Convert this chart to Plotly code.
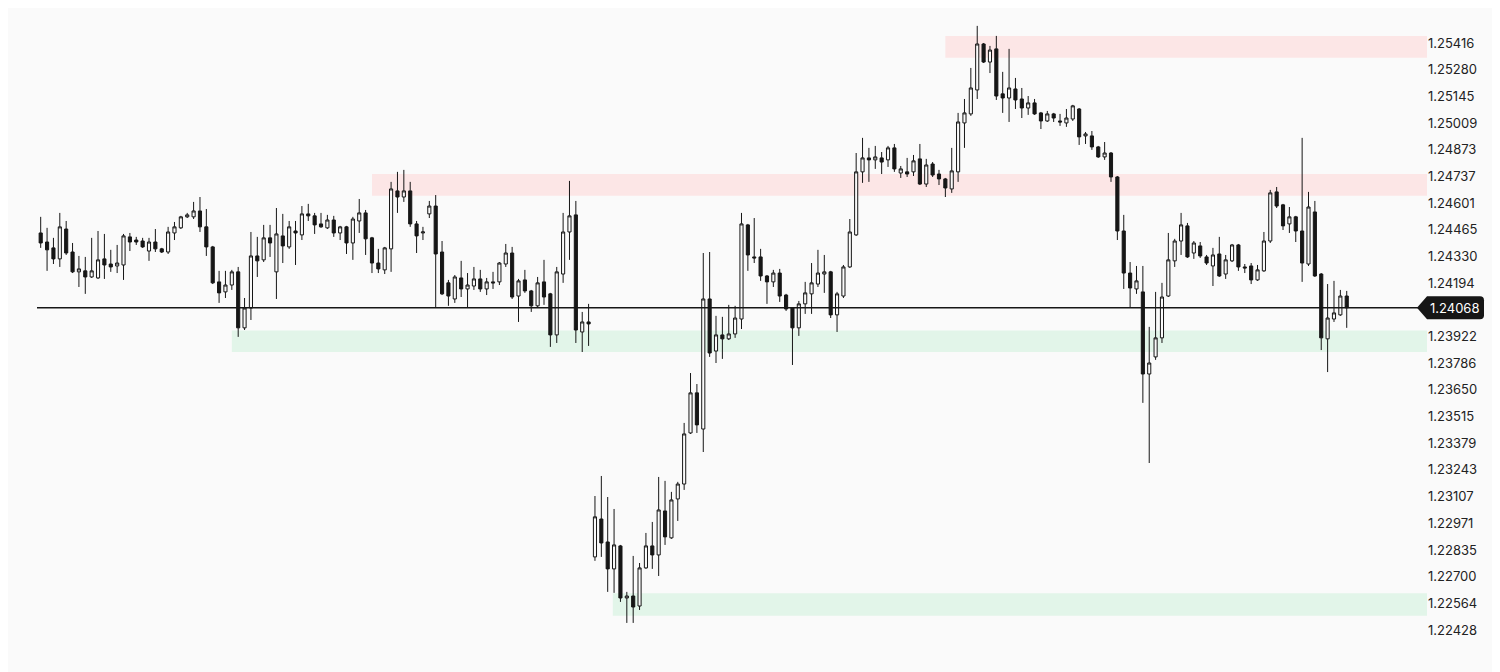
import plotly.graph_objects as go

open_prices = [
    1.24449, 1.24403, 1.24373, 1.24317, 1.24469, 1.24352, 1.24251, 1.24256, 1.24225, 1.24220,
    1.24317, 1.24291, 1.24281, 1.24286, 1.24429, 1.24413, 1.24408, 1.24357, 1.24403, 1.24368,
    1.24352, 1.24449, 1.24475, 1.24531, 1.24531, 1.24561, 1.24480, 1.24378, 1.24200, 1.24149,
    1.24184, 1.24251, 1.23966, 1.24067, 1.24332, 1.24312, 1.24424, 1.24251, 1.24434, 1.24378,
    1.24459, 1.24439, 1.24546, 1.24536, 1.24495, 1.24475, 1.24515, 1.24449, 1.24480, 1.24398,
    1.24510, 1.24551, 1.24424, 1.24296, 1.24261, 1.24368, 1.24663, 1.24632, 1.24663, 1.24495,
    1.24449, 1.24546, 1.24586, 1.24352, 1.24195, 1.24113, 1.24220, 1.24164, 1.24179, 1.24215,
    1.24164, 1.24200, 1.24200, 1.24291, 1.24347, 1.24128, 1.24210, 1.24154, 1.24078, 1.24200,
    1.24139, 1.23930, 1.24240, 1.24454, 1.24541, 1.23945, 1.23996, 1.22800, 1.22993, 1.22876,
    1.22739, 1.22856, 1.22591, 1.22601, 1.22550, 1.22744, 1.22856, 1.22810, 1.23034, 1.22897,
    1.23095, 1.23171, 1.23431, 1.23635, 1.23451, 1.24113, 1.23848, 1.23930, 1.23910, 1.23935,
    1.24011, 1.24490, 1.24327, 1.24327, 1.24230, 1.24200, 1.24245, 1.24133, 1.24067, 1.23966,
    1.24088, 1.24139, 1.24189, 1.24240, 1.24251, 1.24032, 1.24128, 1.24276, 1.24439, 1.24760,
    1.24831, 1.24821, 1.24831, 1.24821, 1.24882, 1.24754, 1.24760, 1.24760, 1.24826, 1.24698,
    1.24800, 1.24749, 1.24724, 1.24673, 1.24760, 1.25009, 1.25055, 1.25177, 1.25411, 1.25319,
    1.25386, 1.25157, 1.25136, 1.25182, 1.25131, 1.25085, 1.25111, 1.25060, 1.25019, 1.25055,
    1.25019, 1.25009, 1.25029, 1.25080, 1.24943, 1.24943, 1.24887, 1.24836, 1.24856, 1.24734,
    1.24459, 1.24245, 1.24164, 1.24149, 1.23731, 1.23818, 1.23915, 1.24128, 1.24307, 1.24408,
    1.24485, 1.24347, 1.24383, 1.24327, 1.24281, 1.24342, 1.24240, 1.24307, 1.24388, 1.24276,
    1.24281, 1.24210, 1.24256, 1.24408, 1.24658, 1.24592, 1.24495, 1.24531, 1.24459, 1.24291,
    1.24556, 1.24240, 1.23910, 1.24011, 1.24032, 1.24128,
]

high_prices = [
    1.24531, 1.24475, 1.24424, 1.24551, 1.24510, 1.24398, 1.24332, 1.24327, 1.24424, 1.24459,
    1.24444, 1.24363, 1.24388, 1.24444, 1.24449, 1.24429, 1.24424, 1.24424, 1.24469, 1.24373,
    1.24480, 1.24505, 1.24536, 1.24551, 1.24607, 1.24632, 1.24571, 1.24383, 1.24256, 1.24256,
    1.24261, 1.24276, 1.24118, 1.24454, 1.24429, 1.24490, 1.24490, 1.24576, 1.24546, 1.24510,
    1.24510, 1.24586, 1.24597, 1.24551, 1.24551, 1.24541, 1.24536, 1.24485, 1.24485, 1.24531,
    1.24622, 1.24566, 1.24429, 1.24368, 1.24378, 1.24709, 1.24760, 1.24770, 1.24709, 1.24510,
    1.24480, 1.24612, 1.24642, 1.24408, 1.24210, 1.24235, 1.24307, 1.24245, 1.24276, 1.24261,
    1.24220, 1.24251, 1.24301, 1.24393, 1.24378, 1.24215, 1.24261, 1.24159, 1.24225, 1.24312,
    1.24144, 1.24276, 1.24551, 1.24714, 1.24612, 1.24047, 1.24088, 1.23110, 1.23212, 1.23105,
    1.23044, 1.22861, 1.22622, 1.22805, 1.22769, 1.22922, 1.22978, 1.23207, 1.23187, 1.23131,
    1.23182, 1.23482, 1.23736, 1.23680, 1.24347, 1.24352, 1.24027, 1.24022, 1.24083, 1.24078,
    1.24551, 1.24495, 1.24525, 1.24368, 1.24235, 1.24261, 1.24266, 1.24139, 1.24072, 1.24103,
    1.24200, 1.24296, 1.24363, 1.24337, 1.24256, 1.24149, 1.24286, 1.24520, 1.24856, 1.24933,
    1.24882, 1.24892, 1.24861, 1.24892, 1.24902, 1.24790, 1.24831, 1.24846, 1.24902, 1.24826,
    1.24810, 1.24770, 1.24729, 1.24882, 1.25060, 1.25131, 1.25289, 1.25503, 1.25416, 1.25401,
    1.25452, 1.25269, 1.25386, 1.25238, 1.25187, 1.25146, 1.25131, 1.25065, 1.25070, 1.25060,
    1.25055, 1.25080, 1.25101, 1.25085, 1.24963, 1.24968, 1.24892, 1.24912, 1.24861, 1.24739,
    1.24541, 1.24301, 1.24281, 1.24281, 1.23971, 1.24149, 1.24195, 1.24449, 1.24419, 1.24551,
    1.24500, 1.24408, 1.24403, 1.24337, 1.24373, 1.24429, 1.24337, 1.24393, 1.24393, 1.24291,
    1.24296, 1.24286, 1.24454, 1.24668, 1.24683, 1.24597, 1.24581, 1.24536, 1.24933, 1.24658,
    1.24612, 1.24245, 1.24189, 1.24205, 1.24159, 1.24154,
]

low_prices = [
    1.24373, 1.24256, 1.24291, 1.24276, 1.24337, 1.24245, 1.24174, 1.24139, 1.24220, 1.24215,
    1.24215, 1.24251, 1.24245, 1.24210, 1.24357, 1.24388, 1.24373, 1.24307, 1.24352, 1.24347,
    1.24342, 1.24413, 1.24469, 1.24525, 1.24520, 1.24454, 1.24332, 1.24189, 1.24093, 1.24118,
    1.24159, 1.23920, 1.23955, 1.24006, 1.24225, 1.24301, 1.24327, 1.24113, 1.24296, 1.24368,
    1.24286, 1.24413, 1.24510, 1.24444, 1.24475, 1.24469, 1.24429, 1.24413, 1.24342, 1.24312,
    1.24449, 1.24337, 1.24245, 1.24245, 1.24240, 1.24251, 1.24551, 1.24607, 1.24480, 1.24347,
    1.24413, 1.24525, 1.24067, 1.24133, 1.24078, 1.24093, 1.24123, 1.24067, 1.24159, 1.24149,
    1.24133, 1.24164, 1.24184, 1.24276, 1.24113, 1.23996, 1.24144, 1.24047, 1.24072, 1.24083,
    1.23869, 1.23889, 1.24195, 1.24312, 1.23889, 1.23843, 1.23874, 1.22780, 1.22800, 1.22622,
    1.22617, 1.22571, 1.22464, 1.22464, 1.22530, 1.22739, 1.22739, 1.22703, 1.22861, 1.22892,
    1.22983, 1.23141, 1.23426, 1.23431, 1.23334, 1.23818, 1.23787, 1.23808, 1.23904, 1.23915,
    1.23960, 1.24256, 1.24296, 1.24205, 1.24088, 1.24174, 1.24098, 1.24052, 1.23777, 1.23925,
    1.24037, 1.24037, 1.24174, 1.24144, 1.24016, 1.23945, 1.24118, 1.24271, 1.24434, 1.24704,
    1.24709, 1.24775, 1.24749, 1.24785, 1.24760, 1.24729, 1.24734, 1.24739, 1.24693, 1.24683,
    1.24734, 1.24693, 1.24632, 1.24653, 1.24709, 1.24882, 1.25045, 1.25131, 1.25314, 1.25263,
    1.25126, 1.25060, 1.25014, 1.25080, 1.25034, 1.25050, 1.25050, 1.24978, 1.25014, 1.25014,
    1.24994, 1.24989, 1.25019, 1.24897, 1.24902, 1.24872, 1.24831, 1.24821, 1.24709, 1.24413,
    1.24164, 1.24067, 1.24139, 1.23584, 1.23278, 1.23803, 1.23889, 1.24123, 1.24276, 1.24337,
    1.24322, 1.24317, 1.24322, 1.24286, 1.24179, 1.24225, 1.24215, 1.24301, 1.24256, 1.24245,
    1.24189, 1.24205, 1.24251, 1.24398, 1.24576, 1.24464, 1.24449, 1.24403, 1.24200, 1.24281,
    1.24225, 1.23853, 1.23741, 1.23996, 1.24027, 1.23966,
]

close_prices = [
    1.24398, 1.24363, 1.24317, 1.24480, 1.24347, 1.24251, 1.24266, 1.24225, 1.24256, 1.24312,
    1.24286, 1.24276, 1.24296, 1.24434, 1.24403, 1.24403, 1.24378, 1.24403, 1.24368, 1.24352,
    1.24454, 1.24480, 1.24531, 1.24541, 1.24561, 1.24480, 1.24378, 1.24195, 1.24144, 1.24184,
    1.24251, 1.23966, 1.24067, 1.24332, 1.24307, 1.24424, 1.24398, 1.24444, 1.24383, 1.24480,
    1.24449, 1.24546, 1.24536, 1.24490, 1.24480, 1.24515, 1.24449, 1.24480, 1.24398, 1.24520,
    1.24551, 1.24419, 1.24296, 1.24266, 1.24373, 1.24673, 1.24632, 1.24663, 1.24495, 1.24434,
    1.24454, 1.24586, 1.24342, 1.24139, 1.24128, 1.24225, 1.24164, 1.24184, 1.24215, 1.24164,
    1.24200, 1.24195, 1.24296, 1.24347, 1.24123, 1.24205, 1.24154, 1.24078, 1.24195, 1.24123,
    1.23930, 1.24251, 1.24454, 1.24536, 1.23955, 1.23996, 1.23986, 1.23004, 1.22871, 1.22739,
    1.22861, 1.22591, 1.22601, 1.22545, 1.22744, 1.22856, 1.22810, 1.23039, 1.22902, 1.23090,
    1.23171, 1.23426, 1.23635, 1.23472, 1.24113, 1.23838, 1.23930, 1.23910, 1.23935, 1.24016,
    1.24495, 1.24337, 1.24322, 1.24230, 1.24200, 1.24245, 1.24128, 1.24062, 1.23966, 1.24088,
    1.24144, 1.24195, 1.24245, 1.24251, 1.24032, 1.24139, 1.24276, 1.24454, 1.24760, 1.24831,
    1.24821, 1.24836, 1.24810, 1.24882, 1.24775, 1.24775, 1.24749, 1.24816, 1.24698, 1.24795,
    1.24744, 1.24724, 1.24678, 1.24765, 1.25014, 1.25060, 1.25187, 1.25411, 1.25319, 1.25380,
    1.25146, 1.25136, 1.25187, 1.25126, 1.25085, 1.25111, 1.25055, 1.25019, 1.25055, 1.25034,
    1.25014, 1.25034, 1.25096, 1.24938, 1.24953, 1.24887, 1.24836, 1.24856, 1.24734, 1.24459,
    1.24245, 1.24169, 1.24205, 1.23731, 1.23787, 1.23915, 1.24123, 1.24312, 1.24408, 1.24490,
    1.24327, 1.24398, 1.24332, 1.24296, 1.24337, 1.24230, 1.24312, 1.24388, 1.24276, 1.24271,
    1.24210, 1.24261, 1.24408, 1.24653, 1.24586, 1.24485, 1.24531, 1.24459, 1.24296, 1.24581,
    1.24230, 1.23915, 1.24016, 1.24042, 1.24128, 1.24068,
]

candle_index = list(range(len(close_prices)))

tick_values = [1.25416, 1.25280, 1.25145, 1.25009, 1.24873, 1.24737, 1.24601, 1.24465,
               1.24330, 1.24194, 1.23922, 1.23786, 1.23650, 1.23515, 1.23379,
               1.23243, 1.23107, 1.22971, 1.22835, 1.22700, 1.22564, 1.22428]
tick_labels = ["1.25416", "1.25280", "1.25145", "1.25009", "1.24873", "1.24737", "1.24601",
               "1.24465", "1.24330", "1.24194", "1.23922", "1.23786", "1.23650", "1.23515",
               "1.23379", "1.23243", "1.23107", "1.22971", "1.22835", "1.22700", "1.22564",
               "1.22428"]

current_price = 1.24068
current_label = "1.24068"

# supply/demand zones: start candle, lower price, upper price, kind
zone_start = [142, 52, 30, 89.8]
zone_low = [1.25341, 1.24639, 1.23843, 1.22501]
zone_high = [1.25452, 1.24749, 1.23952, 1.22615]
zone_kind = ["supply", "supply", "demand", "demand"]

# ---------------- layout geometry ----------------
# the page body adds an 8px offset, so the figure is 8px smaller on each side
W, H = 1492, 664
ML, MR, MT, MB = 29, 73, 12, 20
PW, PH = W - ML - MR, H - MT - MB
X_RANGE = [-0.58, 217.6]
Y_RANGE = [1.22316, 1.25533]

BG = "#fafafa"
INK = "#161616"
ZONE_COLORS = {"supply": "#fce6e6", "demand": "#e2f5e9"}
FONT = "Inter"


def px_to_paper_x(px):
    return (px - ML) / PW


fig = go.Figure()

fig.add_trace(go.Candlestick(
    x=candle_index,
    open=open_prices, high=high_prices, low=low_prices, close=close_prices,
    increasing=dict(line=dict(color=INK, width=1), fillcolor=BG),
    decreasing=dict(line=dict(color=INK, width=1), fillcolor=INK),
    whiskerwidth=0,
    hoverinfo="skip",
    showlegend=False,
))

shapes = []

for s, lo, hi, k in zip(zone_start, zone_low, zone_high, zone_kind):
    shapes.append(dict(type="rect", xref="x", yref="y", x0=s, x1=X_RANGE[1],
                       y0=lo, y1=hi, fillcolor=ZONE_COLORS[k],
                       line=dict(width=0), layer="below"))

# current price line
shapes.append(dict(type="line", xref="paper", yref="y",
                   x0=0, x1=px_to_paper_x(ML + PW - 8), y0=current_price, y1=current_price,
                   line=dict(color=INK, width=1.5), layer="above"))

# price tag
shapes.append(dict(type="path", xref="paper", yref="y",
                   xsizemode="pixel", ysizemode="pixel",
                   xanchor=1.0, yanchor=current_price,
                   path="M-10,0 L0,-11.5 L53,-11.5 Q57,-11.5 57,-7.5 L57,7.5 Q57,11.5 53,11.5 L0,11.5 Z",
                   fillcolor=INK, line=dict(width=0), layer="above"))

fig.update_layout(
    width=W, height=H,
    margin=dict(l=ML, r=MR, t=MT, b=MB),
    paper_bgcolor=BG,
    plot_bgcolor="rgba(0,0,0,0)",
    shapes=shapes,
    showlegend=False,
    font=dict(family=FONT, color="#222222", size=13),
    xaxis=dict(range=X_RANGE, visible=False, rangeslider=dict(visible=False),
               showgrid=False, zeroline=False, fixedrange=True),
    yaxis=dict(range=Y_RANGE, side="right", tickvals=tick_values, ticktext=tick_labels,
               showgrid=False, zeroline=False, showline=False, ticks="",
               tickfont=dict(family=FONT, size=13, color="#222222"), fixedrange=True),
    annotations=[dict(xref="paper", yref="y", x=1.0, y=current_price, xanchor="left",
                      yanchor="middle", xshift=1, text=current_label, showarrow=False,
                      font=dict(family=FONT, size=13, color="#ffffff"))],
)

fig.write_html("out.html")
